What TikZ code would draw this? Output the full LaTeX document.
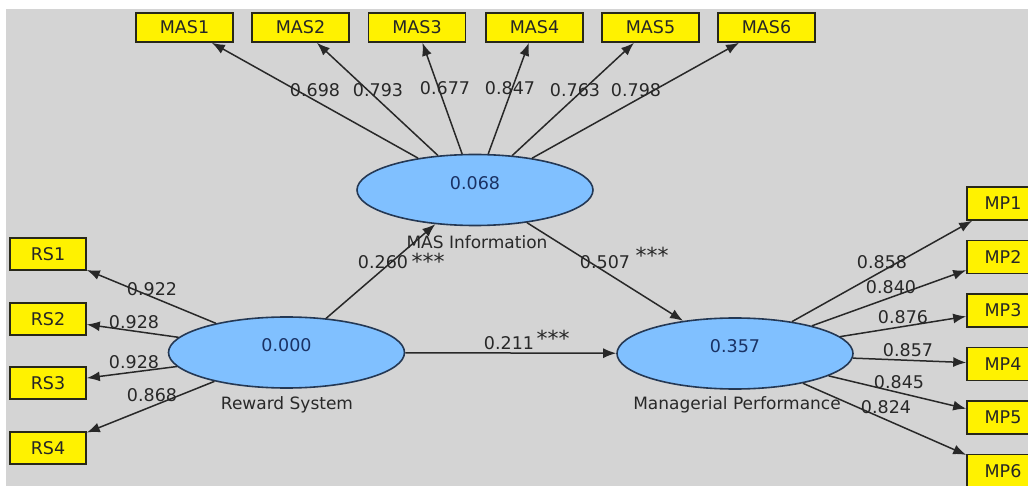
\documentclass[tikz,border=0pt]{standalone}
\usepackage{fontspec}
\setmainfont{DejaVu Sans}
\usetikzlibrary{shapes.geometric, arrows.meta}

\definecolor{canvas}{RGB}{212,212,212}
\definecolor{lvfill}{RGB}{128,192,255}
\definecolor{lvline}{RGB}{36,56,84}
\definecolor{lvtext}{RGB}{26,50,100}
\definecolor{ink}{RGB}{40,40,40}
\definecolor{boxline}{RGB}{40,40,25}

\tikzset{
  latent/.style={ellipse, draw=lvline, line width=1.6pt, fill=lvfill,
    minimum width=236pt, minimum height=71pt, inner sep=0pt, text depth=14pt,
    text=lvtext, font=\fontsize{17.5}{20}\selectfont},
  indicator/.style={rectangle, draw=boxline, line width=1.6pt, fill=yellow,
    inner sep=0pt, text=black!85, font=\fontsize{17.5}{20}\selectfont},
  loading/.style={draw=ink, line width=1.5pt, -{Latex[length=13pt,width=10pt]}},
  coef/.style={inner sep=0pt, text=ink, font=\fontsize{17.5}{20}\selectfont},
  stars/.style={inner sep=0pt, text=ink, font=\fontsize{22}{24}\selectfont},
  caption/.style={inner sep=0pt, text=ink, font=\fontsize{17}{20}\selectfont}
}

\begin{document}
\begin{tikzpicture}[x=1pt, y=-1pt]
\useasboundingbox (0,0) rectangle (1028,486);
\fill[white] (0,0) rectangle (1028,486);
\fill[canvas] (6,9) rectangle (1028,486);

% constructs
\node[latent] (mas) at (475,190) {0.068};
\node[latent] (rs) at (286.5,352.5) {0.000};
\node[latent] (mp) at (735,353.5) {0.357};
\node[caption] (mascap) at (477,242) {MAS Information};
\node[caption] (rscap) at (287,405) {Reward System};
\node[caption] (mpcap) at (737,405) {Managerial Performance};

% indicators
\foreach \i/\x in {1/184.5, 2/300.5, 3/417, 4/534.5, 5/650.5, 6/766.5}
  \node[indicator, minimum width=97pt, minimum height=29pt] (mas\i) at (\x,27.5) {MAS\i};
\foreach \i/\y in {1/254, 2/319, 3/383, 4/448}
  \node[indicator, minimum width=76pt, minimum height=32pt] (rs\i) at (48,\y) {RS\i};
\foreach \i/\y in {1/203.5, 2/257, 3/310.5, 4/364, 5/417.5, 6/471}
  \node[indicator, minimum width=72pt, minimum height=33pt] (mp\i) at (1003,\y) {MP\i};

% outer loadings
\foreach \i in {1,...,6} \draw[loading] (mas) -- (mas\i);
\foreach \i in {1,...,4} \draw[loading] (rs) -- (rs\i);
\foreach \i in {1,...,6} \draw[loading] (mp) -- (mp\i);

\foreach \i/\v/\x/\y in {1/0.698/315/90, 2/0.793/378/90, 3/0.677/445/88,
    4/0.847/510/88, 5/0.763/575/90, 6/0.798/636/90}
  \node[coef] (masl\i) at (\x,\y) {\v};
\foreach \i/\v/\x/\y in {1/0.922/152/289, 2/0.928/134/322, 3/0.928/134/362, 4/0.868/152/395}
  \node[coef] (rsl\i) at (\x,\y) {\v};
\foreach \i/\v/\x/\y in {1/0.858/882/262, 2/0.840/891/287, 3/0.876/903/317,
    4/0.857/908/350, 5/0.845/899/382, 6/0.824/886/407}
  \node[coef] (mpl\i) at (\x,\y) {\v};

% inner model
\draw[loading] (rs) -- (mas);
\draw[loading] (mas) -- (mp);
\draw[loading] (rs) -- (mp);
\node[coef] (p1) at (383,262) {0.260};
\node[stars] (s1) at (428,261) {***};
\node[coef] (p2) at (605,262) {0.507};
\node[stars] (s2) at (652,255) {***};
\node[coef] (p3) at (509,343) {0.211};
\node[stars] (s3) at (553,338) {***};
\end{tikzpicture}
\end{document}
